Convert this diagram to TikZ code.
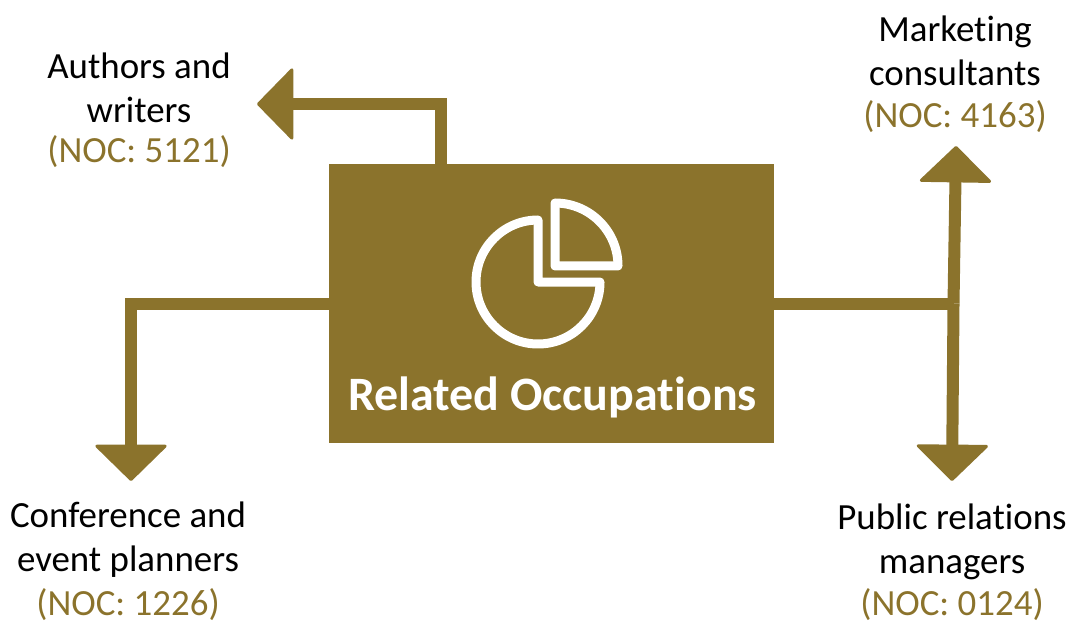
\documentclass[tikz,border=0pt]{standalone}
\usepackage{fontspec}
\setmainfont{Carlito}[RawFeature=-liga]
\usetikzlibrary{arrows.meta,calc}
\definecolor{nocgold}{HTML}{8B732C}

\tikzset{
	occbox/.style={fill=nocgold,draw=none,minimum width=4.45cm,minimum height=2.79cm,inner sep=0pt,outer sep=0pt},
	occtitle/.style={text=white,inner sep=0pt,font=\fontsize{13.65}{16}\selectfont\bfseries},
	occline/.style={draw=nocgold,line width=0.12cm},
	occarrow/.style={occline,-{Triangle[length=0.37cm,width=0.75cm,line width=0.03cm,round]}},
	occtext/.style={align=center,inner sep=0pt,text=black,font=\fontsize{10.5}{12.5}\selectfont},
	iconline/.style={draw=white,line width=0.09cm,line join=round},
}
\newcommand{\noc}[1]{\textcolor{nocgold}{(NOC: #1)}}

\begin{document}
\begin{tikzpicture}
	\useasboundingbox (0,0) rectangle (10.69,-6.21);

	\node[occbox] (box) at (5.515,-3.035) {};
	\node[occtitle] (title) at (5.525,-3.97) {Related Occupations};

	% pie icon
	\draw[iconline] (5.38,-2.2) -- (5.38,-2.82) -- (6.0,-2.82) arc (0:-270:0.62) -- cycle;
	\draw[iconline] (5.55,-2.03) -- (5.55,-2.66) -- (6.18,-2.66) arc (0:90:0.63) -- cycle;

	\coordinate (authorsstart) at (4.41,-1.64);
	\coordinate (authorstip) at (2.57,-1.04);
	\coordinate (plannerstip) at (1.31,-4.81);
	\coordinate (junction) at (9.535,-3.035);
	\coordinate (marketingtip) at (9.56,-1.46);
	\coordinate (publictip) at (9.52,-4.81);

	\draw[occarrow] (authorsstart) |- (authorstip);
	\draw[occarrow] (box.west) -| (plannerstip);
	\draw[occline] (box.east) -- (junction);
	\draw[occarrow] (junction) -- (marketingtip);
	\draw[occarrow] (junction) -- (publictip);

	\node[occtext] (authors) at (1.39,-1.1) {Authors and\\writers\\[-0.4mm]\noc{5121}};
	\node[occtext] (marketing) at (9.55,-0.74) {Marketing\\consultants\\[-0.2mm]\noc{4163}};
	\node[occtext] (planners) at (1.28,-5.61) {Conference and\\event planners\\\noc{1226}};
	\node[occtext] (public) at (9.52,-5.62) {Public relations\\managers\\[-0.2mm]\noc{0124}};
\end{tikzpicture}
\end{document}
